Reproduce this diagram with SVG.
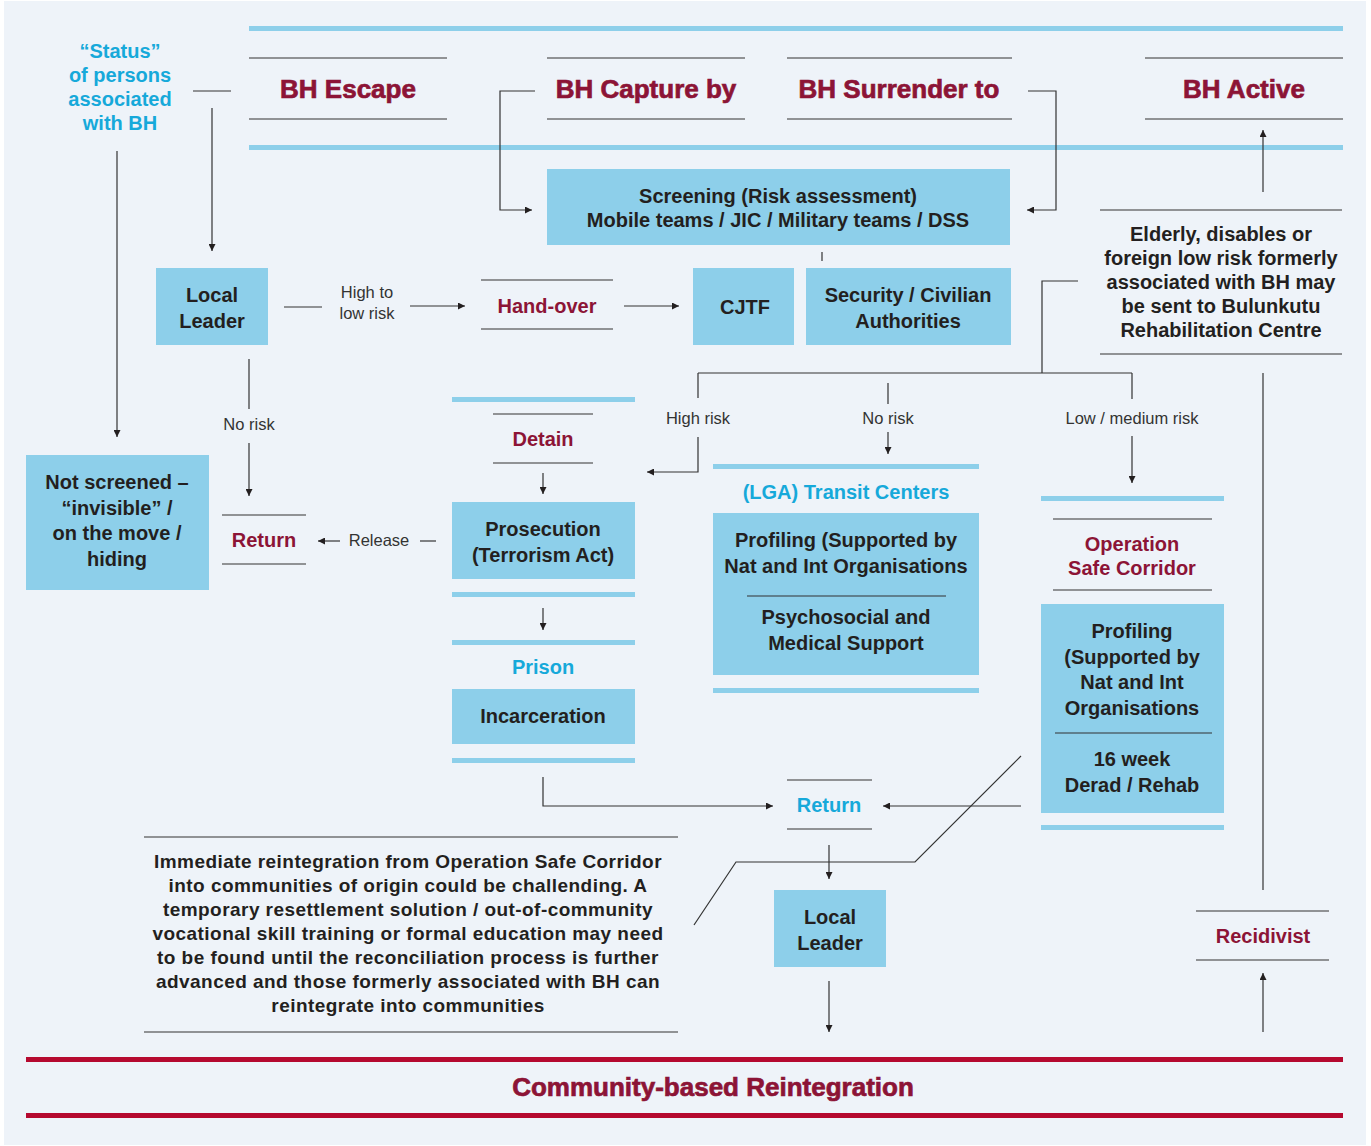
<svg xmlns="http://www.w3.org/2000/svg" width="1371" height="1146" viewBox="0 0 1371 1146">
<style>
.t{font-family:"Liberation Sans",Arial,sans-serif;font-weight:bold;font-size:20px;fill:#231F20;text-anchor:middle}
.h{font-family:"Liberation Sans",Arial,sans-serif;font-weight:bold;font-size:26px;fill:#8C1436;stroke:#8C1436;stroke-width:0.7;text-anchor:middle}
.r{font-family:"Liberation Sans",Arial,sans-serif;font-weight:bold;font-size:20px;fill:#8C1436;text-anchor:middle}
.c{font-family:"Liberation Sans",Arial,sans-serif;font-weight:bold;font-size:20px;fill:#16A9DA;text-anchor:middle}
.l{font-family:"Liberation Sans",Arial,sans-serif;font-size:16.5px;fill:#333;text-anchor:middle}
.p{font-family:"Liberation Sans",Arial,sans-serif;font-weight:bold;font-size:19px;letter-spacing:0.45px;fill:#231F20;text-anchor:middle}
.box{fill:#8DCFEA}
.bar{fill:#8DCFEA}
.rbar{fill:#B5092F}
.ln{stroke:#333;stroke-width:1.2;fill:none}
.cn{stroke:#333;stroke-width:1.2;fill:none}
.a{marker-end:url(#ah)}
</style>
<defs>
<marker id="ah" viewBox="0 0 8 8" refX="8" refY="4" markerWidth="8" markerHeight="7" markerUnits="userSpaceOnUse" orient="auto">
<path d="M0,0 L8,4 L0,8 z" fill="#231F20"/>
</marker>
</defs>
<rect width="1371" height="1146" fill="#fff"/>
<rect x="4" y="1" width="1362" height="1144" fill="#EEF3F9"/>

<g id="frame">
<rect class="bar" x="249" y="26" width="1094" height="5"/>
<rect class="bar" x="249" y="145" width="1094" height="5"/>
<rect class="rbar" x="26" y="1057" width="1317" height="5"/>
<rect class="rbar" x="26" y="1113" width="1317" height="5"/>
</g>

<g id="status">
<text class="c" x="120" y="58">“Status”</text>
<text class="c" x="120" y="82">of persons</text>
<text class="c" x="120" y="106">associated</text>
<text class="c" x="120" y="130">with BH</text>
</g>

<g id="bh-escape">
<path class="ln" d="M249,58 H447 M249,119 H447"/>
<text class="h" x="348" y="98">BH Escape</text>
</g>
<g id="bh-capture">
<path class="ln" d="M547,58 H745 M547,119 H745"/>
<text class="h" x="646" y="98">BH Capture by</text>
</g>
<g id="bh-surrender">
<path class="ln" d="M787,58 H1012 M787,119 H1012"/>
<text class="h" x="899" y="98">BH Surrender to</text>
</g>
<g id="bh-active">
<path class="ln" d="M1145,58 H1343 M1145,119 H1343"/>
<text class="h" x="1244" y="98">BH Active</text>
</g>

<g id="screening">
<rect class="box" x="547" y="169" width="463" height="76"/>
<text class="t" x="778" y="203">Screening (Risk assessment)</text>
<text class="t" x="778" y="227">Mobile teams / JIC / Military teams / DSS</text>
</g>

<g id="local-leader-1">
<rect class="box" x="156" y="268" width="112" height="77"/>
<text class="t" x="212" y="302">Local</text>
<text class="t" x="212" y="328">Leader</text>
</g>

<g id="hand-over">
<path class="ln" d="M481,280 H613 M481,329 H613"/>
<text class="r" x="547" y="313">Hand-over</text>
</g>

<g id="cjtf">
<rect class="box" x="693" y="268" width="101" height="77"/>
<text class="t" x="745" y="314">CJTF</text>
</g>

<g id="security">
<rect class="box" x="806" y="268" width="205" height="77"/>
<text class="t" x="908" y="302">Security / Civilian</text>
<text class="t" x="908" y="328">Authorities</text>
</g>

<g id="elderly">
<path class="ln" d="M1100,210 H1342 M1100,354 H1342"/>
<text class="t" x="1221" y="241">Elderly, disables or</text>
<text class="t" x="1221" y="265">foreign low risk formerly</text>
<text class="t" x="1221" y="289">associated with BH may</text>
<text class="t" x="1221" y="313">be sent to Bulunkutu</text>
<text class="t" x="1221" y="337">Rehabilitation Centre</text>
</g>

<g id="not-screened">
<rect class="box" x="26" y="455" width="183" height="135"/>
<text class="t" x="117" y="489">Not screened –</text>
<text class="t" x="117" y="515">“invisible” /</text>
<text class="t" x="117" y="540">on the move /</text>
<text class="t" x="117" y="566">hiding</text>
</g>

<g id="return-1">
<path class="ln" d="M222,515 H306 M222,564 H306"/>
<text class="r" x="264" y="547">Return</text>
</g>

<g id="detain">
<rect class="bar" x="452" y="397" width="183" height="5"/>
<path class="ln" d="M493,414 H593 M493,463 H593"/>
<text class="r" x="543" y="446">Detain</text>
</g>

<g id="prosecution">
<rect class="box" x="452" y="502" width="183" height="77"/>
<text class="t" x="543" y="536">Prosecution</text>
<text class="t" x="543" y="562">(Terrorism Act)</text>
<rect class="bar" x="452" y="592" width="183" height="5"/>
</g>

<g id="prison">
<rect class="bar" x="452" y="640" width="183" height="5"/>
<text class="c" x="543" y="674">Prison</text>
<rect class="box" x="452" y="689" width="183" height="55"/>
<text class="t" x="543" y="723">Incarceration</text>
<rect class="bar" x="452" y="758" width="183" height="5"/>
</g>

<g id="transit">
<rect class="bar" x="713" y="464" width="266" height="5"/>
<text class="c" x="846" y="499">(LGA) Transit Centers</text>
<rect class="box" x="713" y="513" width="266" height="162"/>
<text class="t" x="846" y="547">Profiling (Supported by</text>
<text class="t" x="846" y="573">Nat and Int Organisations</text>
<path class="ln" d="M747,596 H946"/>
<text class="t" x="846" y="624">Psychosocial and</text>
<text class="t" x="846" y="650">Medical Support</text>
<rect class="bar" x="713" y="688" width="266" height="5"/>
</g>

<g id="safe-corridor">
<rect class="bar" x="1041" y="496" width="183" height="5"/>
<path class="ln" d="M1053,519 H1212 M1053,590 H1212"/>
<text class="r" x="1132" y="551">Operation</text>
<text class="r" x="1132" y="575">Safe Corridor</text>
<rect class="box" x="1041" y="604" width="183" height="209"/>
<text class="t" x="1132" y="638">Profiling</text>
<text class="t" x="1132" y="664">(Supported by</text>
<text class="t" x="1132" y="689">Nat and Int</text>
<text class="t" x="1132" y="715">Organisations</text>
<path class="ln" d="M1055,733 H1212"/>
<text class="t" x="1132" y="766">16 week</text>
<text class="t" x="1132" y="792">Derad / Rehab</text>
<rect class="bar" x="1041" y="825" width="183" height="5"/>
</g>

<g id="return-2">
<path class="ln" d="M787,780 H872 M787,829 H872"/>
<text class="c" x="829" y="812">Return</text>
</g>

<g id="local-leader-2">
<rect class="box" x="774" y="890" width="112" height="77"/>
<text class="t" x="830" y="924">Local</text>
<text class="t" x="830" y="950">Leader</text>
</g>

<g id="recidivist">
<path class="ln" d="M1196,911 H1329 M1196,960 H1329"/>
<text class="r" x="1263" y="943">Recidivist</text>
</g>

<g id="note">
<path class="ln" d="M144,837 H678 M144,1032 H678"/>
<text class="p" x="408" y="868">Immediate reintegration from Operation Safe Corridor</text>
<text class="p" x="408" y="892">into communities of origin could be challending. A</text>
<text class="p" x="408" y="916">temporary resettlement solution / out-of-community</text>
<text class="p" x="408" y="940">vocational skill training or formal education may need</text>
<text class="p" x="408" y="964">to be found until the reconciliation process is further</text>
<text class="p" x="408" y="988">advanced and those formerly associated with BH can</text>
<text class="p" x="408" y="1012">reintegrate into communities</text>
</g>

<g id="community">
<text class="h" x="713" y="1096">Community-based Reintegration</text>
</g>

<g id="connectors">
<path class="cn" d="M193,91 H231"/>
<path class="cn a" d="M212,108 V251"/>
<path class="cn a" d="M117,151 V437"/>
<path class="cn a" d="M535,91 H500 V210 H532"/>
<path class="cn a" d="M1028,91 H1056 V210 H1027"/>
<path class="cn" d="M822,252 V261"/>
<path class="cn" d="M284,307 H322"/>
<path class="cn a" d="M410,306 H465"/>
<path class="cn a" d="M624,306 H679"/>
<path class="cn a" d="M1263,192 V130"/>
<path class="cn" d="M1078,281 H1042 V373 M698,373 H1132 M698,373 V398 M888,383 V404 M1132,373 V399"/>
<path class="cn a" d="M698,437 V472 H647"/>
<path class="cn a" d="M888,432 V454"/>
<path class="cn a" d="M1132,436 V483"/>
<path class="cn" d="M249,359 V409"/>
<path class="cn a" d="M249,443 V496"/>
<path class="cn" d="M436,541 H420"/>
<path class="cn a" d="M340,541 H318"/>
<path class="cn a" d="M543,473 V494"/>
<path class="cn a" d="M543,608 V630"/>
<path class="cn a" d="M543,777 V806 H773"/>
<path class="cn a" d="M1021,806 H883"/>
<path class="cn" d="M1021,756 L915,862 H736 L694,925"/>
<path class="cn a" d="M829,845 V879"/>
<path class="cn a" d="M829,981 V1032"/>
<path class="cn a" d="M1263,1032 V973"/>
<path class="cn" d="M1263,373 V890"/>
<text class="l" x="367" y="298">High to</text>
<text class="l" x="367" y="319">low risk</text>
<text class="l" x="249" y="430">No risk</text>
<text class="l" x="379" y="546">Release</text>
<text class="l" x="698" y="424">High risk</text>
<text class="l" x="888" y="424">No risk</text>
<text class="l" x="1132" y="424">Low / medium risk</text>
</g>
</svg>
